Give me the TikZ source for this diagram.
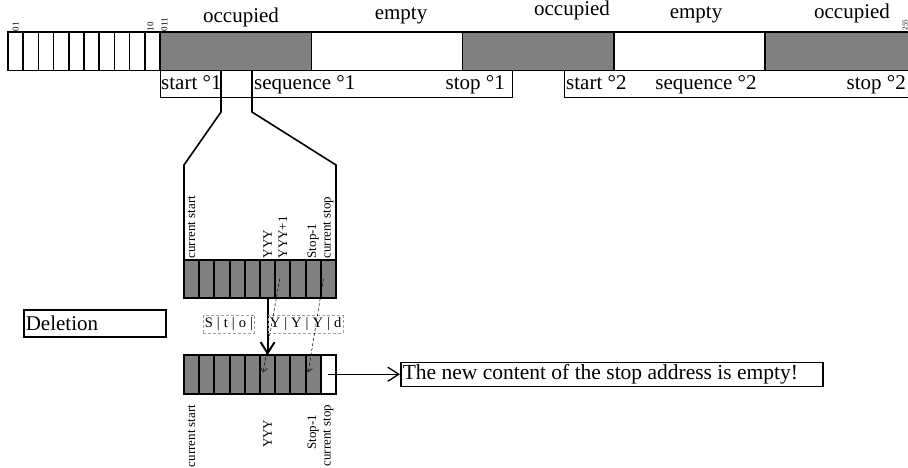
\documentclass[tikz,border=0pt]{standalone}
\usepackage{fontspec}
\setmainfont{Liberation Serif}
\usetikzlibrary{arrows.meta, positioning, calc}
\definecolor{cellgray}{HTML}{808080}
\definecolor{memgray}{HTML}{A0A0A0}

\begin{document}
\begin{tikzpicture}[
  x=1pt, y=-1pt,
  font=\fontsize{21}{24}\selectfont,
  cell/.style={rectangle, draw, line width=1.6pt, minimum width=15.2pt, minimum height=38.5pt, inner sep=0pt, outer sep=0pt, anchor=north west},
  block/.style={rectangle, draw, line width=1.6pt, minimum width=151.3pt, minimum height=38.5pt, inner sep=0pt, outer sep=0pt, anchor=north west},
  seqbox/.style={rectangle, draw, line width=1pt, minimum height=26.5pt, inner sep=0pt, anchor=north west},
  seqtext/.style={inner sep=0pt},
  addr/.style={rotate=90, anchor=west, inner sep=0.5pt, font=\fontsize{9}{10}\selectfont},
  vlabel/.style={rotate=90, inner sep=1pt, font=\fontsize{13}{14}\selectfont},
  membox/.style={rectangle, draw=memgray, densely dashed, line width=0.6pt, inner sep=1.5pt, minimum height=18pt, anchor=west, font=\fontsize{14.5}{16}\selectfont},
  textbox/.style={rectangle, draw, line width=1.6pt, inner sep=2pt, align=left, anchor=west},
  funnel/.style={line width=1.6pt},
  arrow/.style={-{Straight Barb[length=11pt,width=14pt]}, line width=1.3pt},
  moveline/.style={densely dashed, line width=0.5pt, -{Straight Barb[length=4pt,width=7pt]}}
]
  \useasboundingbox (0,0) rectangle (908,468);

  % memory row
  \foreach \i in {0,...,9}
    \node[cell] (m\i) at ({8+15.2*\i},32) {};
  \node[block, fill=cellgray] (occA) at (160,32) {};
  \node[block, right=0pt of occA] (empA) {};
  \node[block, fill=cellgray, right=0pt of empA] (occB) {};
  \node[block, right=0pt of occB] (empB) {};
  \node[block, fill=cellgray, right=0pt of empB] (occC) {};

  \node[anchor=base] (lblA) at (241,22.3) {occupied};
  \node[anchor=base] (lblB) at (401,20) {empty};
  \node[anchor=base] (lblC) at (572,15.7) {occupied};
  \node[anchor=base] (lblD) at (696,19) {empty};
  \node[anchor=base] (lblE) at (852,18.3) {occupied};

  \node[addr] (a01) at (m0.north) {01};
  \node[addr] (a10) at ([xshift=-2pt]m9.north) {10};
  \node[addr] (a011) at ([xshift=4.5pt]occA.north west) {011};
  \node[addr, font=\fontsize{7}{8}\selectfont] (a255) at (905,31) {255};

  % sequences
  \node[seqbox, minimum width=352pt] (seqA) at (160,70.5) {};
  \node[seqbox, minimum width=350pt] (seqB) at (564,70.5) {};
  \node[seqtext, anchor=base west] (startA) at (161,89.5) {start °1};
  \node[seqtext, anchor=base west] (seqnA) at (254,89.5) {sequence °1};
  \node[seqtext, anchor=base east] (stopA) at (505,89.5) {stop °1};
  \node[seqtext, anchor=base west] (startB) at (566,89.5) {start °2};
  \node[seqtext, anchor=base] (seqnB) at (706,89.5) {sequence °2};
  \node[seqtext, anchor=base east] (stopB) at (906,89.5) {stop °2};

  \coordinate (zA) at (221,70.5);
  \coordinate (zB) at (252,70.5);

  % registers
  \foreach \i in {0,...,9}
    \node[cell, fill=cellgray, line width=2pt] (r\i) at ({184+15.2*\i},259.5) {};
  \foreach \i in {0,...,8}
    \node[cell, fill=cellgray, line width=2pt] (b\i) at ({184+15.2*\i},355) {};
  \node[cell, line width=2pt] (b9) at ({184+15.2*9},355) {};

  \draw[funnel] (zA) -- ++(0,41.5) -- ++(-37,53) -- (r0.north west);
  \draw[funnel] (zB) -- ++(0,41.5) -- ++(84,53) -- (r9.north east);

  \node[vlabel, anchor=west] (cstartT) at (r0.north) {current start};
  \node[vlabel, anchor=west] (yyyT) at (r5.north) {YYY};
  \node[vlabel, anchor=west] (yyyoT) at (r6.north) {YYY+1};
  \node[vlabel, anchor=west] (stopmT) at (r8.north) {Stop-1};
  \node[vlabel, anchor=west] (cstopT) at (r9.north) {current stop};

  \node[vlabel, anchor=east] (cstartB) at ([yshift=-10pt]b0.south) {current start};
  \node[vlabel, anchor=east] (yyyB) at ([yshift=-25pt]b5.south) {YYY};
  \node[vlabel, anchor=east] (stopmB) at ([yshift=-20pt]b8.south) {Stop-1};
  \node[vlabel, anchor=east] (cstopB) at ([yshift=-10pt]b9.south) {current stop};

  \draw[arrow, line width=2pt] (r5.south) -- (b5.north);

  \node[membox] (oldmem) at (203,324) {S\;|\;t\;|\;o\;|\hspace{12pt}};
  \node[membox] (newmem) at (268,324) {Y\;|\;Y\;|\;Y\;|\;d};

  \draw[moveline] ([xshift=-3pt]r6.center) -- ([xshift=-4.5pt,yshift=2pt]b5.center);
  \draw[moveline] ([xshift=-5pt]r9.center) -- ([xshift=-5pt,yshift=2pt]b8.center);

  % notes
  \node[textbox, text width=138pt, minimum height=27pt] (del) at (23,323.5) {Deletion};
  \node[textbox, minimum height=24pt, font=\fontsize{21.5}{24}\selectfont] (note) at (400,374.5) {\makebox[418pt][l]{The new content of the stop address is empty!}};
  \draw[arrow] (b9.center) -- (b9.center -| note.west);
\end{tikzpicture}
\end{document}
